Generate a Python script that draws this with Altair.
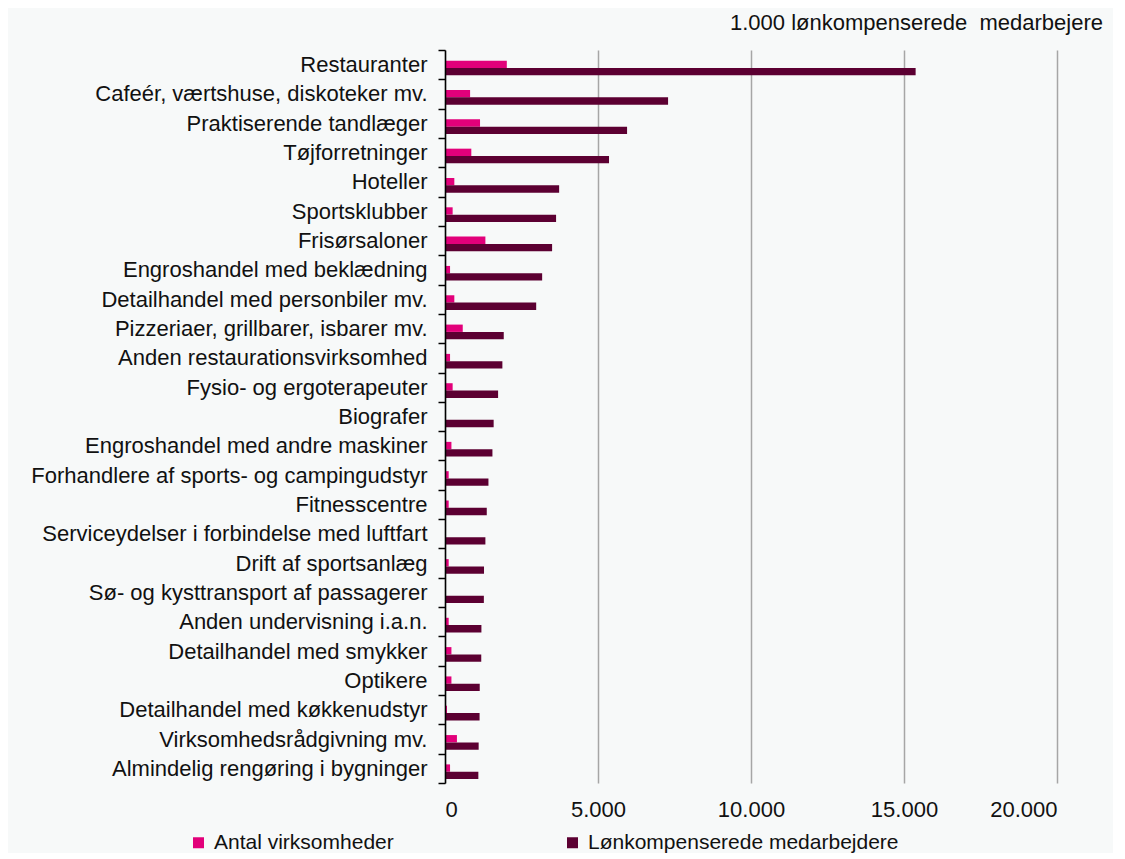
import altair as alt
import pandas as pd

categories = [
    "Restauranter",
    "Cafeér, værtshuse, diskoteker mv.",
    "Praktiserende tandlæger",
    "Tøjforretninger",
    "Hoteller",
    "Sportsklubber",
    "Frisørsaloner",
    "Engroshandel med beklædning",
    "Detailhandel med personbiler mv. ",
    "Pizzeriaer, grillbarer, isbarer mv.",
    "Anden restaurationsvirksomhed",
    "Fysio- og ergoterapeuter",
    "Biografer",
    "Engroshandel med andre maskiner",
    "Forhandlere af sports- og campingudstyr",
    "Fitnesscentre",
    "Serviceydelser i forbindelse med luftfart",
    "Drift af sportsanlæg",
    "Sø- og kysttransport af passagerer",
    "Anden undervisning i.a.n.",
    "Detailhandel med smykker",
    "Optikere",
    "Detailhandel med køkkenudstyr",
    "Virksomhedsrådgivning mv. ",
    "Almindelig rengøring i bygninger",
]
antal = [2020, 820, 1145, 860, 305, 250, 1320, 165, 305, 580, 165, 250, 15, 210,
         120, 120, 20, 120, 15, 120, 210, 210, 65, 390, 165]
medarbejdere = [15380, 7290, 5950, 5360, 3730, 3630, 3500, 3175, 2980, 1920, 1875,
                1735, 1590, 1550, 1420, 1365, 1320, 1275, 1270, 1190, 1185, 1135,
                1130, 1100, 1090]
series = ["Antal virksomheder", "Lønkompenserede medarbejdere"]
colors = ["#E2007A", "#5C0032"]
x_ticks = [0, 5000, 10000, 15000, 20000]

rows = []
for c, a, m in zip(categories, antal, medarbejdere):
    rows.append({"kategori": c, "serie": series[0], "vaerdi": a})
    rows.append({"kategori": c, "serie": series[1], "vaerdi": m})
df = pd.DataFrame(rows)

FONT = "Liberation Sans"
FS = 22

chart = alt.Chart(
    df,
    title=alt.TitleParams(
        text="1.000 lønkompenserede \u00a0medarbejere",
        anchor="end",
        fontSize=FS,
        fontWeight="normal",
        font=FONT,
        color="#111111",
        dx=46,
        offset=4,
    ),
).mark_bar().encode(
    y=alt.Y(
        "kategori:N",
        sort=categories,
        scale=alt.Scale(paddingInner=0, paddingOuter=0),
        axis=alt.Axis(
            title=None,
            tickBand="extent",
            labelFontSize=FS,
            labelFont=FONT,
            labelColor="#111111",
            labelPadding=11,
            labelLimit=600,
            tickSize=7,
            tickColor="#000000",
            tickWidth=1.5,
            domainColor="#000000",
            domainWidth=1.5,
            grid=False,
            zindex=2,
        ),
    ),
    x=alt.X(
        "vaerdi:Q",
        scale=alt.Scale(domain=[0, 20000], nice=False),
        axis=alt.Axis(
            title=None,
            values=x_ticks,
            labelExpr="replace(format(datum.value, ',d'), ',', '.')",
            labelFontSize=FS,
            labelFont=FONT,
            labelColor="#111111",
            labelPadding=16,
            ticks=False,
            domain=False,
            grid=True,
            gridColor="#A6A6A6",
            gridWidth=1.5,
        ),
    ),
    yOffset=alt.YOffset(
        "serie:N",
        sort=series,
        scale=alt.Scale(paddingInner=0, paddingOuter=1, align=0.73),
    ),
    color=alt.Color(
        "serie:N",
        sort=series,
        scale=alt.Scale(domain=series, range=colors),
        legend=alt.Legend(
            title=None,
            orient="none",
            legendX=-257,
            legendY=782,
            direction="horizontal",
            columns=2,
            columnPadding=168,
            symbolType="square",
            symbolSize=121,
            symbolStrokeWidth=0,
            labelFontSize=21,
            labelFont=FONT,
            labelColor="#111111",
            labelOffset=5,
            labelLimit=600,
            padding=0,
        ),
    ),
).properties(
    width=612,
    height=733,
    background="#F7F9F9",
    padding={"left": 22, "top": 4, "right": 10, "bottom": 0},
).configure_view(stroke=None)

chart.save("out.html", embed_options={"renderer": "svg", "actions": False})
